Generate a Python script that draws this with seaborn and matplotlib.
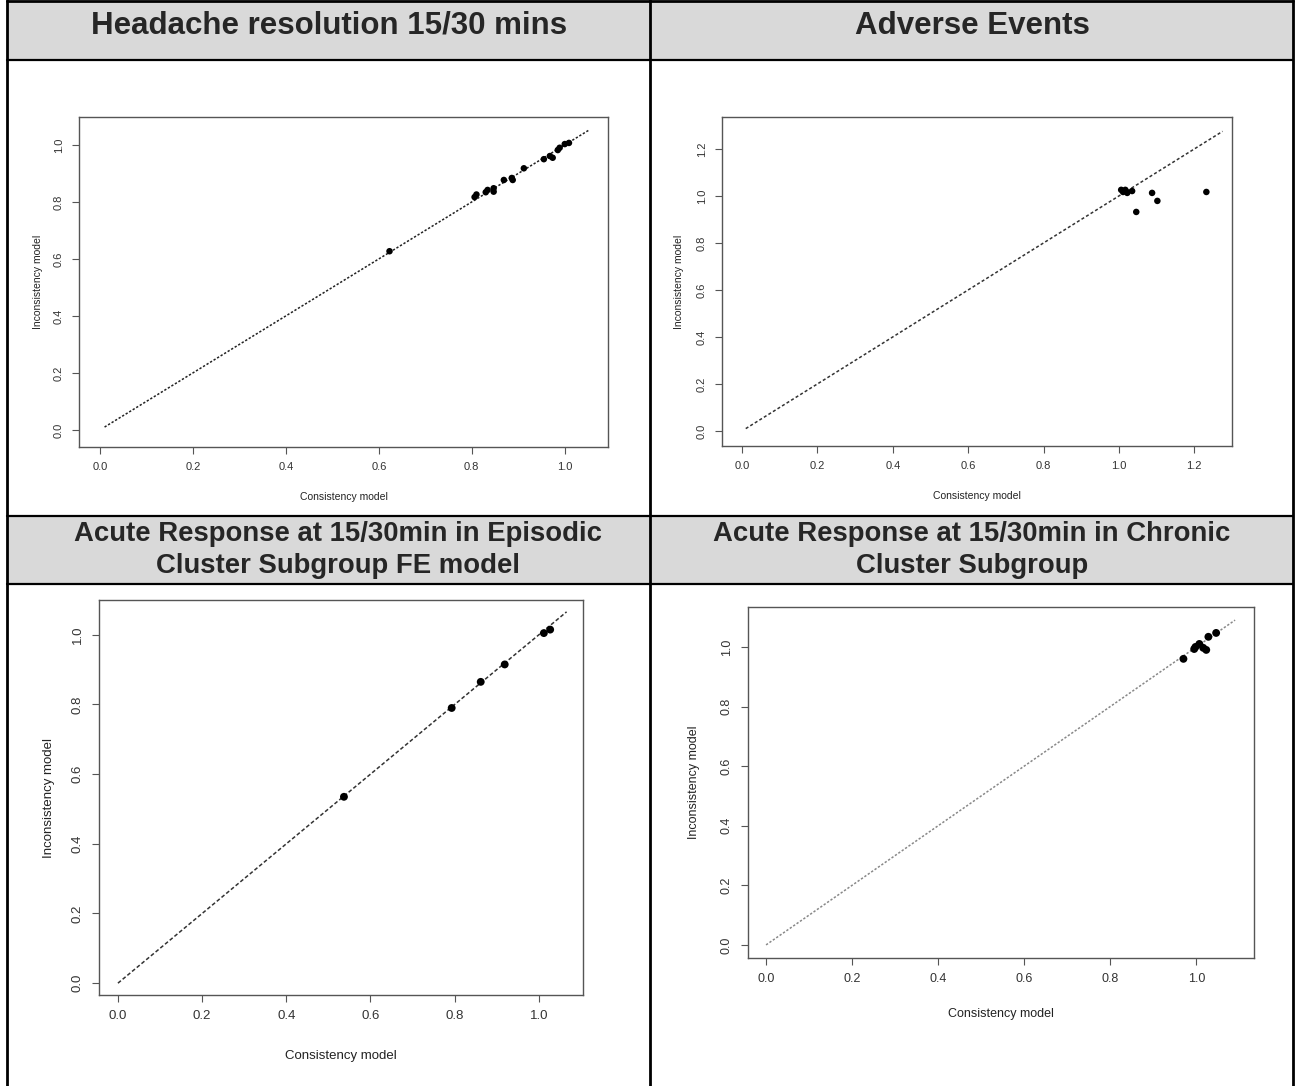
import numpy as np
import pandas as pd
import matplotlib
matplotlib.use('Agg')
import matplotlib.pyplot as plt
from matplotlib.lines import Line2D
from matplotlib.patches import Rectangle
import seaborn as sns

# Panel titles
titles = ['Headache resolution 15/30 mins',
          'Adverse Events',
          'Acute Response at 15/30min in Episodic\nCluster Subgroup FE model',
          'Acute Response at 15/30min in Chronic\nCluster Subgroup']

# Headache resolution 15/30 mins (consistency vs inconsistency)
hr_cons = [0.623, 0.806, 0.81, 0.83, 0.834, 0.847, 0.847, 0.869, 0.886, 0.888,
           0.912, 0.955, 0.968, 0.974, 0.985, 0.989, 1.0, 1.009]
hr_inc = [0.627, 0.817, 0.826, 0.834, 0.842, 0.848, 0.836, 0.877, 0.884, 0.877,
          0.918, 0.95, 0.961, 0.955, 0.982, 0.99, 1.003, 1.007]
hr_diag = [0.01, 1.053]

# Adverse events
ae_cons = [1.006, 1.011, 1.017, 1.022, 1.035, 1.088, 1.102, 1.046, 1.232]
ae_inc = [1.026, 1.017, 1.026, 1.013, 1.021, 1.013, 0.979, 0.932, 1.017]
ae_diag = [0.01, 1.275]

# Episodic cluster subgroup FE model
ep_cons = [0.537, 0.793, 0.862, 0.919, 1.012, 1.027]
ep_inc = [0.535, 0.79, 0.865, 0.915, 1.005, 1.015]
ep_diag = [0.0, 1.066]

# Chronic cluster subgroup
ch_cons = [0.97, 0.995, 0.998, 1.007, 1.016, 1.023, 1.028, 1.046]
ch_inc = [0.96, 0.993, 1.0, 1.01, 0.997, 0.99, 1.034, 1.047]
ch_diag = [0.0, 1.09]

ticks = [0.0, 0.2, 0.4, 0.6, 0.8, 1.0]
ticks_ae = [0.0, 0.2, 0.4, 0.6, 0.8, 1.0, 1.2]

sns.set_style('white')
plt.rcParams['font.family'] = ['Liberation Sans', 'DejaVu Sans']

W, H = 1297, 1086
fig = plt.figure(figsize=(W / 100, H / 100), dpi=100)


def box(l, t, r, b):
    return [l / W, 1 - b / H, (r - l) / W, (b - t) / H]


def hline(y, x0, x1, lw=2):
    fig.add_artist(Line2D([x0 / W, x1 / W], [1 - y / H, 1 - y / H], color='black', lw=lw,
                          transform=fig.transFigure))


def vline(x, y0, y1, lw=2):
    fig.add_artist(Line2D([x / W, x / W], [1 - y0 / H, 1 - y1 / H], color='black', lw=lw,
                          transform=fig.transFigure))


# table header backgrounds
for (x0, x1, y0, y1) in [(7, 650, 1, 60), (650, 1293, 1, 60), (7, 650, 516, 584), (650, 1293, 516, 584)]:
    fig.add_artist(Rectangle((x0 / W, 1 - y1 / H), (x1 - x0) / W, (y1 - y0) / H,
                             facecolor='#d9d9d9', edgecolor='none', transform=fig.transFigure))

hline(1, 7, 1293)
hline(60, 7, 1293, lw=1.6)
hline(516, 7, 1293, lw=1.6)
hline(584, 7, 1293, lw=1.6)
vline(7, 0, 1086)
vline(650, 0, 1086)
vline(1293, 0, 1086)

fig.text(329 / W, 1 - 26 / H, titles[0], ha='center', va='center', fontsize=22.5, fontweight='bold')
fig.text(972 / W, 1 - 26 / H, titles[1], ha='center', va='center', fontsize=22.5, fontweight='bold')
fig.text(338 / W, 1 - 550 / H, titles[2], ha='center', va='center', fontsize=19.8, fontweight='bold',
         linespacing=1.3)
fig.text(972 / W, 1 - 550 / H, titles[3], ha='center', va='center', fontsize=19.8, fontweight='bold',
         linespacing=1.3)

panels = [
    dict(pos=(79, 117, 608, 447), x=hr_cons, y=hr_inc, d=hr_diag, xlim=(-0.045, 1.093), ylim=(-0.06, 1.098),
         xt=ticks, yt=ticks, ls=(0, (1.5, 1.2)), lc='#222222', s=22, fs=8, lfs=7.5, xpad=24, ypad=16),
    dict(pos=(722, 117, 1232, 446), x=ae_cons, y=ae_inc, d=ae_diag, xlim=(-0.053, 1.30), ylim=(-0.064, 1.336),
         xt=ticks_ae, yt=ticks_ae, ls=(0, (2, 1.5)), lc='#333333', s=22, fs=8, lfs=7.5, xpad=24, ypad=17),
    dict(pos=(99, 600, 583, 995), x=ep_cons, y=ep_inc, d=ep_diag, xlim=(-0.045, 1.105), ylim=(-0.034, 1.1),
         xt=ticks, yt=ticks, ls=(0, (2.5, 1.5)), lc='#333333', s=32, fs=9.5, lfs=9.5, xpad=30, ypad=20),
    dict(pos=(748, 607, 1254, 958), x=ch_cons, y=ch_inc, d=ch_diag, xlim=(-0.042, 1.134), ylim=(-0.044, 1.134),
         xt=ticks, yt=ticks, ls=(0, (1.5, 1.2)), lc='#888888', s=32, fs=9, lfs=9, xpad=26, ypad=23),
]

for p in panels:
    ax = fig.add_axes(box(*p['pos']))
    df = pd.DataFrame({'Consistency model': p['x'], 'Inconsistency model': p['y']})
    sns.lineplot(x=p['d'], y=p['d'], ax=ax, color=p['lc'], lw=1.1, linestyle=p['ls'])
    sns.scatterplot(data=df, x='Consistency model', y='Inconsistency model', ax=ax,
                    color='black', s=p['s'], edgecolor='none', zorder=3)
    ax.set_xlim(*p['xlim'])
    ax.set_ylim(*p['ylim'])
    ax.set_xticks(p['xt'])
    ax.set_yticks(p['yt'])
    ax.set_xticklabels([f'{t:.1f}' for t in p['xt']])
    ax.set_yticklabels([f'{t:.1f}' for t in p['yt']], rotation=90, va='center')
    ax.tick_params(direction='out', length=5, width=0.8, color='#555555', labelsize=p['fs'],
                   labelcolor='#333333', pad=6, bottom=True, left=True)
    for sp in ax.spines.values():
        sp.set_color('#555555')
        sp.set_linewidth(1.0)
    ax.set_xlabel('Consistency model', fontsize=p['lfs'], color='#222222', labelpad=p['xpad'] - 10)
    ax.set_ylabel('Inconsistency model', fontsize=p['lfs'], color='#222222', labelpad=p['ypad'] - 8)

fig.savefig('out.png', dpi=100)
